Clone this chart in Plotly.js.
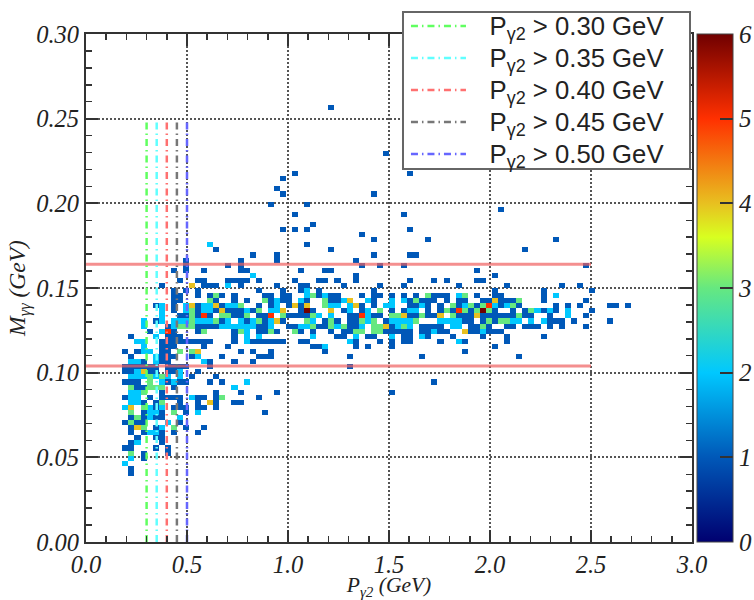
<!DOCTYPE html>
<html><head><meta charset="utf-8">
<script src="https://cdn.plot.ly/plotly-3.0.1.min.js"></script>
<style>html,body{margin:0;padding:0;background:#fff}#c{width:754px;height:600px}</style>
</head><body><div id="c"></div>
<script>
// Histogram: 100 x 100 bins. Each row: [yBin, bins with 1, with 2, with 3, with 4, with 5, with 6 entries]
const cellRows = [
[85,[40]],[76,[49]],[72,[34,53]],[71,[32]],[69,[31]],[68,[32,47]],[66,[30,36]],[65,[68]],[64,[34,52]],[62,[37]],
[61,[32,34,36,53]],[60,[45]],[59,[47,56,77]],[58,[36],[20]],[57,[21,40,72]],[56,[27,31,47,53,54]],[55,[16,25,31,44]],
[54,[16,23,25,45,48,52,82]],[53,[14,16,19,25,26,35,39,40,64]],[52,[44,67],[27]],
[51,[15,18,19,23,24,25,26,28,34,38,39,41,44,53,57,59,64,65]],
[50,[12,19,20,21,25,31,35,36,42,48,52,61,69,78,81],[23],[],[17]],
[49,[14,16,18,28,32,35,38,47,67,75,83],[36]],
[48,[14,15,18,20,22,24,29,30,32,33,38,40,41,45,47,48,50,52,54,57,58,59,64,67,68,75],[36,39,61,77],[21,37,56,62]],
[47,[14,15,21,24,26,30,32,33,36,40,41,47,53,55,56,57,59,61,62,65,66,68,69,70,75,82],[31,35,42,46,50,52],[20,29,39,54,71],[43,67]],
[46,[11,14,18,22,28,30,33,35,45,47,53,54,56,58,61,64,68,71,77,79,81,86,87,89],[12,16,19,20,23,24,31,40,41,43,49,50,55,62,67,69],[25,39,60,63,65,70],[17,21,34,36,44],[66]],
[45,[14,18,21,23,24,25,27,35,37,42,45,50,52,56,58,60,63,67,70,72,75,77,83],[12,16,19,20,26,30,31,43,46,53,54,74,76,79],[17,28,48,59,62,64,66,73],[22,32,40],[61],[36,65]],
[44,[15,16,18,20,24,25,28,29,33,34,35,36,43,44,47,48,53,54,56,57,61,62,63,65,66,67,68,69,70,72,73,76,82],[12,38,40,46,79],[17,22,23,26,32,37,50,51,55,60,71],[52,58,64],[19,30,45]],
[43,[11,22,26,29,32,39,41,43,44,49,62,63,65,67,76,77,78,80,86],[9,12,14,15,16,18,19,20,23,25,27,30,37,46,50,51,52,53,58,59,60,61,70,71,73,75],[17,21,28,36,40,45,47,54,66,68,69],[31]],
[42,[13,18,19,20,21,28,29,33,34,38,39,43,44,50,55,56,57,58,63,64,66,69,70,72,73,74,76,78,82],[9,14,22,23,24,25,26,27,30,35,36,41,45,51,53,60,61],[15,16,17,37,40,42,47,48,52,65],[49]],
[41,[10,14,18,24,28,29,31,35,37,40,42,43,49,50,51,52,53,55,56,58,59,63,64,66,67,68],[12,26,57,65],[19,25,30,34,44,45,47,48],[62],[13]],
[40,[7,13,14,15,24,41,42,46,47,52,53,56,60,65,69,75],[11,26,28,37,44,50,55]],
[39,[12,13,14,15,16,17,18,19,20,24,27,28,29,30,31,32,35,36,44,48,50,52,53,58,62,69],[8,9,26,43,61]],
[38,[12,13,14,19,23,37,38,44,46,50,67],[9,39]],
[37,[6,8,12,13,25,27,30,39,62],[9,10],[15,17],[18]],
[36,[7,12,13,14,17,22,28,29,30,43,55,71],[11,18]],
[35,[9,12,13,20,24,27],[7,8,11,19]],
[34,[6,7,8,9,10,11,13,14,15,16,20,43]],
[33,[6,7,10,11,13,14,18],[8,15],[],[9]],
[32,[17,21],[7,8,9,11,13,15],[10,12]],
[31,[6,7,8,13,15,16,20,22,57],[12,14,26],[10]],
[30,[8,9,14],[24],[7,10,11,12]],
[29,[12,21,25,31,50],[7,8],[9]],
[28,[6,10,12,13,14,15,18,19,21,28],[7,8,17],[22]],
[27,[9,11,15,18,21,24,25],[7,8],[12],[20]],
[26,[11,14,15,16,18,19,21],[6,10,12],[9],[7]],
[25,[9,12,16,29],[10,11,18],[7,14]],
[24,[7,9,11,12],[10,15],[8]],
[23,[6,8,9,15],[13],[7]],
[22,[7,11,16,19],[12],[9,14],[8]],
[21,[7,9,12,14,18],[10,11]],
[20,[8,11,12]],[19,[7,12],[8]],[18,[6,7,11,13]],[17,[9,13],[],[7]],[16,[9],[7]],[15,[],[6]],[14,[7]],[13,[7]]
];
const binCount = 100, xMax = 3.0, yMax = 0.30;
const cutValues = [0.30,0.35,0.40,0.45,0.50];
const cutLabels = ['0.30','0.35','0.40','0.45','0.50'];
const cutColors = ['#60ff60','#60ffff','#ff7070','#777777','#6666ff'];
const cutTop = 0.25;
const massWindow = [0.104,0.164];
const massWindowEnd = 2.5;
const colorStops = [[0,'#000070'],[0.1667,'#0058b8'],[0.3333,'#00c8ff'],[0.5,'#66e880'],[0.6,'#d8ff20'],[0.6667,'#e8c020'],[0.8333,'#ff3000'],[1,'#700000']];

const z = Array.from({length:binCount},()=>Array(binCount).fill(null));
cellRows.forEach(r=>{ for(let c=1;c<r.length;c++) r[c].forEach(i=>{ z[r[0]][i]=c; }); });

const traces = [{
  type:'heatmap', z:z, x0:xMax/binCount/2, dx:xMax/binCount, y0:yMax/binCount/2, dy:yMax/binCount,
  zmin:0, zmax:6, colorscale:colorStops, showlegend:false, hoverongaps:false,
  colorbar:{x:1.0083, xanchor:'left', y:0, yanchor:'bottom', len:1, lenmode:'fraction', ypad:0, xpad:0, thickness:36, thicknessmode:'pixels',
    tickmode:'array', tickvals:[0,1,2,3,4,5,6], ticktext:['0','1','2','3','4','5','6'], ticks:'inside', ticklen:13, tickwidth:2, tickcolor:'#333',
    outlinewidth:1, outlinecolor:'#444', tickfont:{family:'Liberation Serif',size:25,color:'#222',style:'italic'}}
}];
massWindow.forEach(m=>traces.push({type:'scatter',mode:'lines',x:[0,massWindowEnd],y:[m,m],showlegend:false,opacity:0.7,
  line:{color:'#f06060',width:3},hoverinfo:'skip'}));
cutValues.forEach((v,k)=>traces.push({type:'scatter',mode:'lines',x:[v,v],y:[0,cutTop],
  name:'&nbsp;&nbsp;&nbsp;<span style="font-size:25.7px">P<sub>γ2</sub> &gt; '+cutLabels[k]+' GeV</span>',
  line:{color:cutColors[k],width:2.5,dash:'7px,4px,1.5px,4px'}}));

const tickFont = {family:'Liberation Serif',size:24.5,color:'#222',style:'italic'};
const axisBase = {showline:true,linecolor:'#333',linewidth:2,mirror:'allticks',ticks:'inside',ticklen:12,tickwidth:2,tickcolor:'#333',
  showgrid:true,gridcolor:'#555',gridwidth:2,griddash:'2px,2px',zeroline:false,tickfont:tickFont};
const layout = {
  width:754,height:600,margin:{l:86,r:62,t:34,b:58,autoexpand:false},paper_bgcolor:'#fff',plot_bgcolor:'#fff',
  xaxis:Object.assign({},axisBase,{range:[0,xMax],dtick:0.5,tickformat:'.1f',
    minor:{dtick:0.1,ticks:'inside',ticklen:6,tickwidth:1.5,tickcolor:'#333',showgrid:false},
    title:{text:'P<sub>γ2</sub> (GeV)',font:{family:'Liberation Serif',size:21.5,color:'#222',style:'italic'},standoff:9}}),
  yaxis:Object.assign({},axisBase,{range:[0,yMax],dtick:0.05,tickformat:'.2f',
    minor:{dtick:0.01,ticks:'inside',ticklen:6,tickwidth:1.5,tickcolor:'#333',showgrid:false},
    title:{text:'M<sub>γγ</sub> (GeV)',font:{family:'Liberation Serif',size:23.5,color:'#222',style:'italic'},standoff:4}}),
  shapes:[{type:'rect',xref:'paper',yref:'paper',x0:0.5231,x1:0.9967,y0:0.7342,y1:1.0433,layer:'above',
    fillcolor:'#fff',line:{color:'#666',width:2}}],
  legend:{x:0.528,xanchor:'left',y:1.0571,yanchor:'top',bgcolor:'rgba(0,0,0,0)',borderwidth:0,
    font:{family:'Liberation Sans',size:22.3,color:'#222'},itemwidth:55},
};
Plotly.newPlot('c',traces,layout,{displayModeBar:false,staticPlot:true});
</script></body></html>
